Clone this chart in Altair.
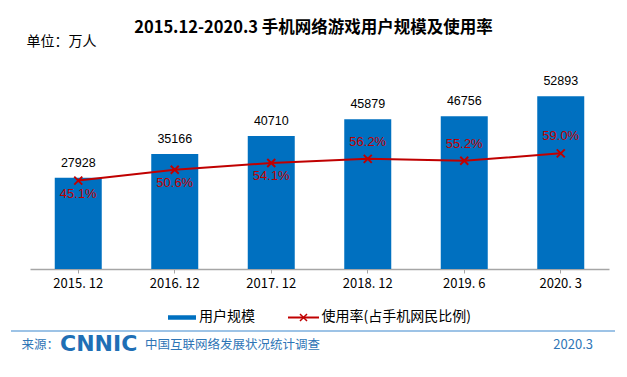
import altair as alt
import pandas as pd

categories = ["2015. 12", "2016. 12", "2017. 12", "2018. 12", "2019. 6", "2020. 3"]
users = [27928, 35166, 40710, 45879, 46756, 52893]
rates = [45.1, 50.6, 54.1, 56.2, 55.2, 59.0]
labels_below = ["2015. 12", "2016. 12", "2017. 12"]
labels_above = ["2018. 12", "2019. 6", "2020. 3"]

title_text = "2015.12-2020.3 手机网络游戏用户规模及使用率"
unit_text = "单位：万人"
legend_bar = "用户规模"
legend_line = "使用率(占手机网民比例)"
source_label = "来源："
source_logo = "CNNIC"
source_name = "中国互联网络发展状况统计调查"
source_date = "2020.3"

BLUE = "#0070C0"
RED = "#C00000"
FOOT = "#2E75B6"
CJK = "Noto Sans CJK SC"
W, H = 579, 196

df = pd.DataFrame({"cat": categories, "users": users, "rate": rates})
base = alt.Chart(df)

x = alt.X("cat:N", sort=categories, title=None,
          scale=alt.Scale(paddingInner=0, paddingOuter=0),
          axis=alt.Axis(labelAngle=0, labelFont=CJK, labelFontSize=13, labelColor="#000",
                        domainColor="#A6A6A6", domainWidth=1.5, tickColor="#A6A6A6",
                        tickSize=4, labelPadding=4))
y_users = alt.Y("users:Q", scale=alt.Scale(domain=[0, 60000]), axis=None)
y_rate = alt.Y("rate:Q", scale=alt.Scale(domain=[0, 100]), axis=None)

bars = base.mark_bar(color=BLUE, size=47).encode(x=x, y=y_users)
bar_text = base.mark_text(dy=-15, baseline="middle", fontSize=12.5, font="Liberation Sans",
                          color="#000").encode(x=x, y=y_users, text=alt.Text("users:Q", format="d"))
line = base.mark_line(color=RED, strokeWidth=2).encode(x=x, y=y_rate)
pts = base.mark_point(shape="M-1,-1L1,1M-1,1L1,-1", size=64, filled=False, color=RED,
                      strokeWidth=2, opacity=1).encode(x=x, y=y_rate)
pct = base.transform_calculate(lbl="format(datum.rate, '.1f') + '%'")
pct_below = pct.transform_filter(alt.FieldOneOfPredicate(field="cat", oneOf=labels_below)).mark_text(
    dy=13, baseline="middle", fontSize=13, font="Liberation Sans", color=RED).encode(
    x=x, y=y_rate, text="lbl:N")
pct_above = pct.transform_filter(alt.FieldOneOfPredicate(field="cat", oneOf=labels_above)).mark_text(
    dy=-17, baseline="middle", fontSize=13, font="Liberation Sans", color=RED).encode(
    x=x, y=y_rate, text="lbl:N")

one = alt.Chart(pd.DataFrame({"k": [0]}))


def txt(t, xv, yv, size, color="#000", align="left", font=CJK, weight="normal"):
    return one.mark_text(text=t, align=align, baseline="middle", fontSize=size, font=font,
                         color=color, fontWeight=weight).encode(x=alt.value(xv), y=alt.value(yv))


def rule(x1, x2, yv, color, width):
    return one.mark_rule(color=color, strokeWidth=width).encode(
        x=alt.value(x1), x2=alt.value(x2), y=alt.value(yv))


title = txt(title_text, 283.5, -45, 16.5, weight="bold", align="center")
unit = txt(unit_text, -3.5, -31.5, 14)
leg_bar = rule(138, 166, 244.5, BLUE, 4.5)
leg_bar_t = txt(legend_bar, 169, 244, 14)
leg_line = rule(258, 289, 244.5, RED, 2)
leg_pt = one.mark_point(shape="M-1,-1L1,1M-1,1L1,-1", size=49, filled=False, color=RED,
                        strokeWidth=1.5, opacity=1).encode(x=alt.value(273.5), y=alt.value(244.5))
leg_line_t = txt(legend_line, 291.5, 244, 14)
foot_rule = rule(-19, 585, 258, "#9DC3E6", 2)
src = txt(source_label, -8.5, 271.5, 12.5, color=FOOT)
logo = txt(source_logo, 30, 271, 22, color="#1F6FB5", font="DejaVu Sans", weight="bold")
src_name = txt(source_name, 115, 271.5, 12.5, color=FOOT)
src_date = txt(source_date, 563, 271.5, 13, color=FOOT, align="right")

chart = alt.layer(
    bars, bar_text, line, pts, pct_below, pct_above,
    title, unit, leg_bar, leg_bar_t, leg_line, leg_pt, leg_line_t,
    foot_rule, src, logo, src_name, src_date
).resolve_scale(y="independent").properties(
    width=W, height=H,
    autosize=alt.AutoSizeParams(type="none"),
    padding={"left": 22, "top": 65, "right": 8, "bottom": 90},
    background="white",
).configure_view(stroke=None)

chart.save("out.html", embed_options={"renderer": "svg", "actions": False})
